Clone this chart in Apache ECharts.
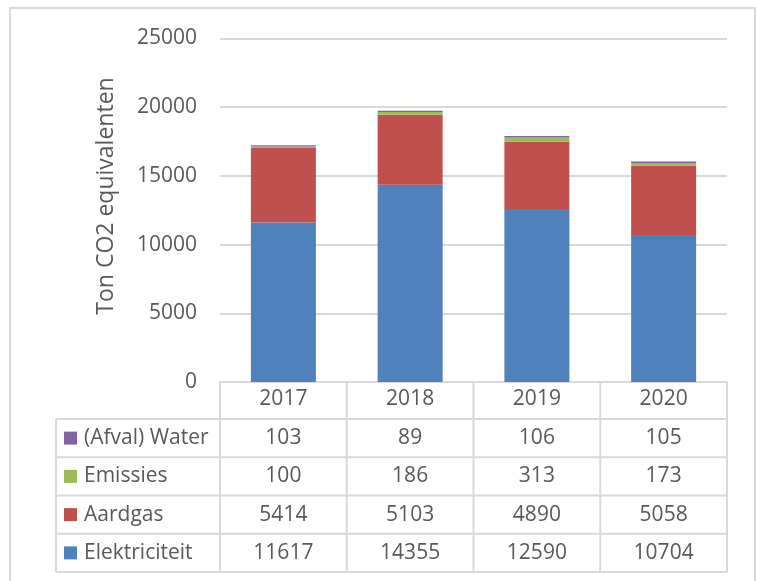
<!DOCTYPE html>
<html><head><meta charset="utf-8">
<script src="https://cdn.jsdelivr.net/npm/echarts@6/dist/echarts.min.js"></script>
<style>html,body{margin:0;padding:0;background:#fff}#c{width:757px;height:581px}</style>
</head><body><div id="c"></div>
<script>
// ---- data ----
const years = ['2017', '2018', '2019', '2020'];
const elektriciteit = [11617, 14355, 12590, 10704];
const aardgas = [5414, 5103, 4890, 5058];
const emissies = [100, 186, 313, 173];
const afvalWater = [103, 89, 106, 105];
const seriesNames = ['Elektriciteit', 'Aardgas', 'Emissies', '(Afval) Water'];
const yAxisTitle = 'Ton CO2 equivalenten';
const yMax = 25000;
const yStep = 5000;

// ---- style ----
const colors = ['#4F81BD', '#C0504D', '#9BBB59', '#8064A2'];
const FONT = '"Open Sans", "Noto Sans", sans-serif';
const TXT = '#595959';
const LINE = '#D9D9D9';
const FS = 21;

const chart = echarts.init(document.getElementById('c'), null, { renderer: 'canvas' });
const seriesData = [elektriciteit, aardgas, emissies, afvalWater];

const option = {
  animation: false,
  backgroundColor: '#fff',
  grid: { left: 220, right: 30, top: 38.5, bottom: 199, containLabel: false },
  xAxis: {
    type: 'category',
    data: years,
    axisLine: { show: true, lineStyle: { color: LINE, width: 2 } },
    axisTick: { show: false },
    axisLabel: { margin: 7, fontSize: FS, color: TXT, fontFamily: FONT }
  },
  yAxis: {
    type: 'value',
    min: 0, max: yMax, interval: yStep,
    axisLine: { show: false }, axisTick: { show: false },
    splitLine: { lineStyle: { color: LINE, width: 2 } },
    axisLabel: { margin: 23, fontSize: FS, color: TXT, fontFamily: FONT, formatter: v => String(v) }
  },
  series: seriesNames.map((n, i) => ({
    name: n, type: 'bar', stack: 'total', data: seriesData[i],
    barWidth: 65, itemStyle: { color: colors[i] }
  }))
};
chart.setOption(option);

// ---- data table + frame drawn from axis positions ----
const c0 = chart.convertToPixel({ xAxisIndex: 0 }, years[0]);
const c1 = chart.convertToPixel({ xAxisIndex: 0 }, years[1]);
const colW = c1 - c0;
const yZero = chart.convertToPixel({ yAxisIndex: 0 }, 0);
const tableLeft = 56;
const headerH = 37;
const rowH = 38.25;
const rowsOrder = [3, 2, 1, 0]; // top to bottom
const g = [];
const xLeft = c0 - colW / 2;
const xRight = c0 + colW * (years.length - 0.5);
const tableTop = yZero + headerH;
const tableBottom = tableTop + rowH * rowsOrder.length;
const font = FS + 'px ' + FONT;

g.push({ type: 'rect', shape: { x: 10, y: 8, width: 745, height: 620 }, style: { fill: null, stroke: LINE, lineWidth: 2 }, silent: true });
for (let i = 0; i <= years.length; i++) {
  const x = xLeft + colW * i;
  g.push({ type: 'line', shape: { x1: x, y1: yZero, x2: x, y2: tableBottom }, style: { stroke: LINE, lineWidth: 2 }, silent: true });
}
g.push({ type: 'line', shape: { x1: tableLeft, y1: tableTop, x2: tableLeft, y2: tableBottom }, style: { stroke: LINE, lineWidth: 2 }, silent: true });
for (let r = 0; r <= rowsOrder.length; r++) {
  const y = tableTop + rowH * r;
  g.push({ type: 'line', shape: { x1: tableLeft, y1: y, x2: xRight, y2: y }, style: { stroke: LINE, lineWidth: 2 }, silent: true });
}
rowsOrder.forEach((si, r) => {
  const cy = tableTop + rowH * r + rowH / 2;
  g.push({ type: 'rect', shape: { x: 64, y: cy - 6.5, width: 13, height: 13 }, style: { fill: colors[si] }, silent: true });
  g.push({ type: 'text', x: 84, y: cy, style: { text: seriesNames[si], fill: TXT, font: font, align: 'left', verticalAlign: 'middle', textAlign: 'left', textVerticalAlign: 'middle' }, silent: true });
  years.forEach((yr, j) => {
    const cx = chart.convertToPixel({ xAxisIndex: 0 }, yr);
    g.push({ type: 'text', x: cx, y: cy, style: { text: String(seriesData[si][j]), fill: TXT, font: font, align: 'center', verticalAlign: 'middle', textAlign: 'center', textVerticalAlign: 'middle' }, silent: true });
  });
});
g.push({ type: 'text', x: 106, y: 196, rotation: Math.PI / 2, style: { text: yAxisTitle, fill: TXT, font: '23px ' + FONT, align: 'center', verticalAlign: 'middle', textAlign: 'center', textVerticalAlign: 'middle' }, silent: true });

chart.setOption({ graphic: g });
</script>
</body></html>
